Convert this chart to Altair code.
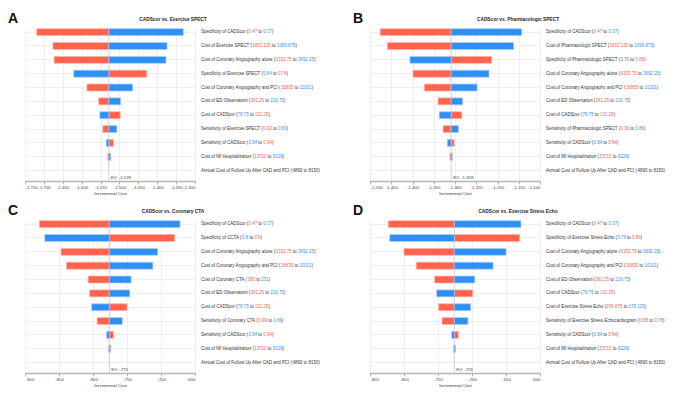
import altair as alt
import pandas as pd

FONT = "Liberation Sans"
RED, BLUE = "#ff624d", "#2f8ff2"
RED_EDGE, BLUE_EDGE = "#ffb3a8", "#a5cdf8"
RED_T, BLUE_T = "#f0624f", "#3a8fe6"
TXT = "#333333"

# ---------------- data ----------------
A_letter, A_title = "A", "CADScor vs. Exercise SPECT"
A_names = ["Specificity of CADScor", "Cost of Exercise SPECT", "Cost of Coronary Angiography alone",
           "Specificity of Exercise SPECT", "Cost of Coronary Angiography and PCI", "Cost of ED Observation",
           "Cost of CADScor", "Sensitivity of Exercise SPECT", "Sensitivity of CADScor",
           "Cost of MI Hospitalization", "Annual Cost of Follow Up After CAD and PCI"]
A_from = ["0.47", "1833.125", "6153.75", "0.64", "16835", "361.25", "78.75", "0.93", "0.84", "13710", "4890"]
A_to = ["0.37", "1099.875", "3692.25", "0.74", "10101", "216.75", "131.25", "0.83", "0.94", "8226", "8150"]
A_red = [-1719, -1676, -1673, -1428, -1586, -1555, -1498, -1544, -1516, -1531, -1528]
A_blue = [-1331, -1374, -1377, -1621, -1465, -1497, -1552, -1507, -1535, -1523, -1528]
A_ev = -1528
A_dom = [-1750, -1300]

B_letter, B_title = "B", "CADScor vs. Pharmacologic SPECT"
B_names = ["Specificity of CADScor", "Cost of Pharmacologic SPECT", "Specificity of Pharmacologic SPECT",
           "Cost of Coronary Angiography alone", "Cost of Coronary Angiography and PCI", "Cost of ED Observation",
           "Cost of CADScor", "Sensitivity of Pharmacologic SPECT", "Sensitivity of CADScor",
           "Cost of MI Hospitalization", "Annual Cost of Follow Up After CAD and PCI"]
B_from = ["0.47", "1833.125", "0.76", "6153.75", "16835", "361.25", "78.75", "0.96", "0.84", "13710", "4890"]
B_to = ["0.37", "1099.875", "0.86", "3692.25", "10101", "216.75", "131.25", "0.86", "0.94", "8226", "8150"]
B_red = [-1476, -1459, -1214, -1399, -1372, -1340, -1284, -1328, -1302, -1312, -1309]
B_blue = [-1143, -1162, -1406, -1220, -1248, -1282, -1337, -1292, -1318, -1306, -1309]
B_ev = -1309
B_dom = [-1500, -1100]

C_letter, C_title = "C", "CADScor vs. Coronary CTA"
C_names = ["Specificity of CADScor", "Specificity of CCTA", "Cost of Coronary Angiography alone",
           "Cost of Coronary Angiography and PCI", "Cost of Coronary CTA", "Cost of ED Observation",
           "Cost of CADScor", "Sensitivity of Coronary CTA", "Sensitivity of CADScor",
           "Cost of MI Hospitalization", "Annual Cost of Follow Up After CAD and PCI"]
C_from = ["0.47", "0.8", "6153.75", "16835", "385", "361.25", "78.75", "0.99", "0.84", "13710", "4890"]
C_to = ["0.37", "0.9", "3692.25", "10101", "231", "216.75", "131.25", "0.89", "0.94", "8226", "8150"]
C_red = [-879, -680, -847, -839, -807, -805, -750, -794, -770, -777, -776]
C_blue = [-672, -871, -705, -712, -744, -746, -802, -757, -780, -774, -776]
C_ev = -776
C_dom = [-900, -650]

D_letter, D_title = "D", "CADScor vs. Exercise Stress Echo"
D_names = ["Specificity of CADScor", "Specificity of Exercise Stress Echo", "Cost of Coronary Angiography alone",
           "Cost of Coronary Angiography and PCI", "Cost of ED Observation", "Cost of CADScor",
           "Cost of Exercise Stress Echo", "Sensitivity of Exercise Stress Echocardiogram",
           "Sensitivity of CADScor", "Cost of MI Hospitalization", "Annual Cost of Follow Up After CAD and PCI"]
D_from = ["0.47", "0.79", "6153.75", "16835", "361.25", "78.75", "296.875", "0.88", "0.84", "13710", "4890"]
D_to = ["0.37", "0.89", "3692.25", "10101", "216.75", "131.25", "178.125", "0.78", "0.94", "8226", "8150"]
D_red = [-823, -630, -800, -782, -755, -699, -749, -744, -720, -727, -726]
D_blue = [-628, -821, -650, -669, -696, -752, -702, -706, -730, -724, -726]
D_ev = -726
D_dom = [-850, -600]

# ---------------- layout constants ----------------
W, H = 170, 153
GAP = 6
LFS = 4.45     # label font size
AFS = 4.3      # axis font size

# Arial / Liberation Sans advance widths (per 1000 em)
_AW = {' ': 278, '(': 333, ')': 333, ',': 278, '-': 333, '.': 278, ':': 278}
for d in "0123456789":
    _AW[d] = 556
_AW.update(dict(zip("ABCDEFGHIJKLMNOPQRSTUVWXYZ",
                    [667, 667, 722, 722, 667, 611, 778, 722, 278, 500, 667, 556, 833, 722, 778, 667,
                     778, 722, 667, 611, 722, 667, 944, 667, 667, 611])))
_AW.update(dict(zip("abcdefghijklmnopqrstuvwxyz",
                    [556, 556, 500, 556, 556, 278, 556, 556, 222, 222, 500, 222, 833, 556, 556, 556,
                     556, 333, 500, 278, 556, 500, 722, 500, 500, 500])))


def tw(s, fs=LFS):
    return sum(_AW.get(c, 556) for c in s) / 1000.0 * fs


ALL = [(A_names, A_from, A_to), (B_names, B_from, B_to), (C_names, C_from, C_to), (D_names, D_from, D_to)]
LW = int(max(tw(f"{n} ({a} to {b})") for ns, fs_, ts in ALL for n, a, b in zip(ns, fs_, ts)) + 2)

yscale = alt.Scale(type="band", domain=list(range(11)), paddingInner=0.5, paddingOuter=0.275, align=0.09)


def panel(letter, title, names, frm, to, red, blue, ev, dom):
    n = len(names)
    rows = []
    for i in range(n):
        if red[i] != ev:
            rows.append({"row": i, "x0": ev, "x1": red[i], "fill": RED, "edge": RED_EDGE})
        if blue[i] != ev:
            rows.append({"row": i, "x0": ev, "x1": blue[i], "fill": BLUE, "edge": BLUE_EDGE})
    bdf = pd.DataFrame(rows)

    xs = alt.Scale(domain=dom, nice=False, zero=False)
    xaxis = alt.Axis(values=list(range(dom[0], dom[1] + 1, 50)), title="Incremental Cost",
                     labelExpr="replace(format(datum.value, ','), '\u2212', '-')",
                     grid=True, gridColor="#ebebeb", gridWidth=0.8,
                     domainColor="#b4b4b4", domainWidth=1.5, tickColor="#b4b4b4", tickSize=3,
                     labelFontSize=AFS, labelColor="#444444", labelPadding=1, labelFont=FONT,
                     titleFontSize=AFS, titleFontWeight="normal", titleColor="#333333",
                     titlePadding=2, titleFont=FONT)
    yaxis = alt.Axis(grid=True, gridColor="#ebebeb", gridWidth=0.8, labels=False, ticks=False,
                     domain=False, title=None, bandPosition=0.5)

    evdf = pd.DataFrame({"ev": [ev], "lab": [f"EV: {ev:,}"]})
    evrule = alt.Chart(evdf).mark_rule(color="#c6c6c6", strokeWidth=0.8).encode(
        x=alt.X("ev:Q", scale=xs, axis=xaxis))
    bars = alt.Chart(bdf).mark_bar(strokeWidth=0.7).encode(
        x=alt.X("x0:Q", scale=xs, axis=xaxis),
        x2="x1:Q",
        y=alt.Y("row:O", scale=yscale, axis=yaxis),
        color=alt.Color("fill:N", scale=None),
        stroke=alt.Stroke("edge:N", scale=None),
    )
    evtext = alt.Chart(evdf).mark_text(align="left", dx=2, baseline="bottom", fontSize=AFS,
                                       font=FONT, color="#444444").encode(
        x=alt.X("ev:Q", scale=xs, axis=xaxis), y=alt.value(H - 1.5), text="lab:N")
    let = alt.Chart(pd.DataFrame({"t": [letter]})).mark_text(
        align="left", baseline="alphabetic", fontSize=14, fontWeight="bold", font=FONT,
        color="#111111").encode(x=alt.value(-17), y=alt.value(-5), text="t:N")
    ttl = alt.Chart(pd.DataFrame({"t": [title]})).mark_text(
        align="center", baseline="middle", fontSize=4.8, fontWeight="bold", font=FONT,
        color="#222222").encode(x=alt.value((W + GAP + LW) / 2), y=alt.value(-8), text="t:N")
    plot = alt.layer(evrule, bars, evtext, let, ttl).properties(width=W, height=H)

    segs = []
    for i in range(n):
        a, b = frm[i], to[i]
        if i == n - 1:
            ca = cb = TXT
        else:
            ca, cb = (RED_T, BLUE_T) if float(a) > float(b) else (BLUE_T, RED_T)
        pre = f"{names[i]} ("
        segs.append({"row": i, "off": 0.0, "t": pre, "c": TXT})
        segs.append({"row": i, "off": tw(pre), "t": a, "c": ca})
        segs.append({"row": i, "off": tw(pre + a + " "), "t": "to", "c": TXT})
        segs.append({"row": i, "off": tw(pre + a + " to "), "t": b, "c": cb})
        segs.append({"row": i, "off": tw(pre + a + " to " + b), "t": ")", "c": TXT})
    sdf = pd.DataFrame(segs)
    labs = alt.Chart(sdf).mark_text(align="left", baseline="middle", fontSize=LFS, font=FONT).encode(
        x=alt.X("off:Q", scale=alt.Scale(domain=[0, LW], nice=False), axis=None),
        y=alt.Y("row:O", scale=yscale, axis=None),
        text="t:N",
        color=alt.Color("c:N", scale=None),
    ).properties(width=LW, height=H)

    return alt.hconcat(plot, labs, spacing=GAP, bounds="flush")


pA = panel(A_letter, A_title, A_names, A_from, A_to, A_red, A_blue, A_ev, A_dom)
pB = panel(B_letter, B_title, B_names, B_from, B_to, B_red, B_blue, B_ev, B_dom)
pC = panel(C_letter, C_title, C_names, C_from, C_to, C_red, C_blue, C_ev, C_dom)
pD = panel(D_letter, D_title, D_names, D_from, D_to, D_red, D_blue, D_ev, D_dom)

chart = alt.vconcat(
    alt.hconcat(pA, pB, spacing=32),
    alt.hconcat(pC, pD, spacing=32),
    spacing=8,
).properties(padding={"top": 4, "left": 0, "right": 0, "bottom": 0}).configure(
    font=FONT).configure_view(strokeWidth=0)

chart.save("out.html", embed_options={"renderer": "svg", "actions": False})
